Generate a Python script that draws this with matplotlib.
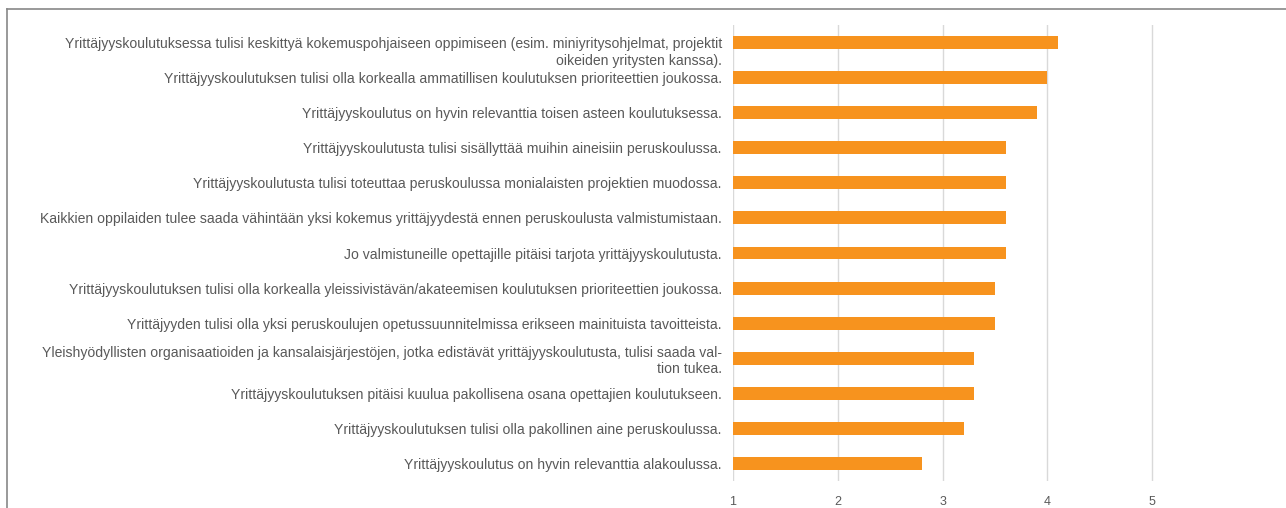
import matplotlib
matplotlib.use("Agg")
import matplotlib.pyplot as plt
from matplotlib.transforms import ScaledTranslation
from matplotlib.lines import Line2D

labels = [
    "Yrittäjyyskoulutuksessa tulisi keskittyä kokemuspohjaiseen oppimiseen (esim. miniyritysohjelmat, projektit\noikeiden yritysten kanssa).",
    "Yrittäjyyskoulutuksen tulisi olla korkealla ammatillisen koulutuksen prioriteettien joukossa.",
    "Yrittäjyyskoulutus on hyvin relevanttia toisen asteen koulutuksessa.",
    "Yrittäjyyskoulutusta tulisi sisällyttää muihin aineisiin peruskoulussa.",
    "Yrittäjyyskoulutusta tulisi toteuttaa peruskoulussa monialaisten projektien muodossa.",
    "Kaikkien oppilaiden tulee saada vähintään yksi kokemus yrittäjyydestä ennen peruskoulusta valmistumistaan.",
    "Jo valmistuneille opettajille pitäisi tarjota yrittäjyyskoulutusta.",
    "Yrittäjyyskoulutuksen tulisi olla korkealla yleissivistävän/akateemisen koulutuksen prioriteettien joukossa.",
    "Yrittäjyyden tulisi olla yksi peruskoulujen opetussuunnitelmissa erikseen mainituista tavoitteista.",
    "Yleishyödyllisten organisaatioiden ja kansalaisjärjestöjen, jotka edistävät yrittäjyyskoulutusta, tulisi saada val-\ntion tukea.",
    "Yrittäjyyskoulutuksen pitäisi kuulua pakollisena osana opettajien koulutukseen.",
    "Yrittäjyyskoulutuksen tulisi olla pakollinen aine peruskoulussa.",
    "Yrittäjyyskoulutus on hyvin relevanttia alakoulussa.",
]
values = [4.1, 4.0, 3.9, 3.6, 3.6, 3.6, 3.6, 3.5, 3.5, 3.3, 3.3, 3.2, 2.8]
xticks = [1, 2, 3, 4, 5]

plt.rcParams["font.family"] = ["Liberation Sans", "DejaVu Sans"]
TXT = "#595959"

fig = plt.figure(figsize=(12.86, 5.08), dpi=100)
ax = fig.add_axes([0.570, 0.0531, 0.4075, 0.8977])

pos = list(range(len(values)))
ax.barh(pos, [v - 1 for v in values], left=1, height=0.37, color="#F7931E", zorder=2)

ax.set_xlim(1, 6)
ax.set_ylim(len(values) - 0.5, -0.5)
ax.set_xticks(xticks)
ax.set_xticklabels([str(t) for t in xticks])
ax.set_yticks(pos)
ax.set_yticklabels(labels, fontsize=10.05, color=TXT, ha="right",
                   multialignment="right", linespacing=1.25)
ax.tick_params(axis="y", length=0, pad=8)
ax.tick_params(axis="x", length=0, pad=11, labelsize=9, labelcolor=TXT)
ax.grid(axis="x", color="#D9D9D9", lw=1, zorder=0)
for s in ax.spines.values():
    s.set_visible(False)

# first label sits with its first line next to the bar
tl = ax.get_yticklabels()[0]
tl.set_transform(tl.get_transform() + ScaledTranslation(0, -7 / 100, fig.dpi_scale_trans))

# chart frame (cropped at right and bottom)
fig.add_artist(Line2D([7 / 1286, 7 / 1286], [0, 1 - 9 / 508], transform=fig.transFigure, color="#888888", lw=1.2))
fig.add_artist(Line2D([7 / 1286, 1], [1 - 9 / 508, 1 - 9 / 508], transform=fig.transFigure, color="#888888", lw=1.2))

fig.savefig("out.png", dpi=100)
